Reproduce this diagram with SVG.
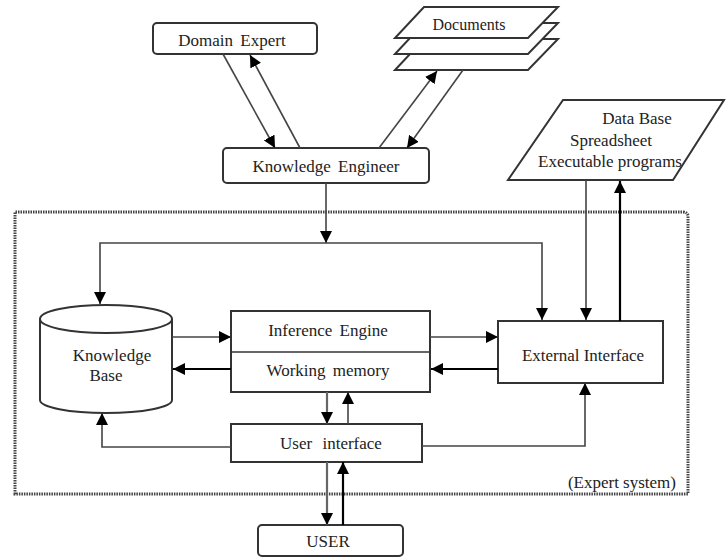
<svg xmlns="http://www.w3.org/2000/svg" width="727" height="558" viewBox="0 0 727 558">
<style>
text{font-family:'Liberation Serif','DejaVu Serif',serif;font-size:17px;fill:#222;text-anchor:middle;dominant-baseline:central;word-spacing:3px}
.box{fill:#fff;stroke:#333;stroke-width:2}
.ln{fill:none;stroke:#444;stroke-width:1.6}
.lnk{fill:none;stroke:#000;stroke-width:2.2}
.lng{fill:none;stroke:#666;stroke-width:2.2}
</style>
<defs>
<marker id="ah" markerUnits="userSpaceOnUse" markerWidth="14" markerHeight="12" refX="12" refY="6" orient="auto">
<path d="M0,0 L12,6 L0,12 Z" fill="#000"/>
</marker>
</defs>

<!-- dotted expert system boundary -->
<path d="M15,494 V212 H683 Q688,212 688,217 V494 Z" fill="none" stroke="#444" stroke-width="3" stroke-dasharray="1.5 1"/>
<text x="676" y="482" font-family="Liberation Serif, serif" style="text-anchor:end;word-spacing:0">(Expert system)</text>

<g id="domain-expert" font-family="Liberation Serif, serif">
<rect class="box" x="153" y="23" width="164" height="31" rx="4"/>
<text x="232" y="40">Domain Expert</text>
</g>

<g id="documents" font-family="Liberation Serif, serif">
<polygon class="box" points="424,39 558,39 528,70 395,70"/>
<polygon class="box" points="424,23 558,23 528,54 395,54"/>
<polygon class="box" points="424,7 558,7 528,38 395,38"/>
<text x="469" y="24" style="font-size:16px">Documents</text>
</g>

<g id="knowledge-engineer">
<rect class="box" x="223" y="148" width="206" height="35" rx="4"/>
<text x="326" y="166">Knowledge Engineer</text>
</g>

<g id="data-base">
<polygon class="box" points="563,100 724,100 673,180 508,180"/>
<text x="637" y="118" style="word-spacing:0">Data Base</text>
<text x="611" y="140">Spreadsheet</text>
<text x="610" y="161" style="word-spacing:0">Executable programs</text>
</g>

<g id="knowledge-base">
<path class="box" d="M40,319 V400 A66,13 0 0 0 172,400 V319"/>
<ellipse class="box" cx="106" cy="319" rx="66" ry="14"/>
<text x="112" y="355">Knowledge</text>
<text x="106" y="375">Base</text>
</g>

<g id="inference-engine">
<rect class="box" x="231" y="311" width="199" height="81"/>
<line x1="231" y1="352" x2="430" y2="352" stroke="#333" stroke-width="1.5"/>
<text x="328" y="330">Inference Engine</text>
<text x="328" y="370">Working memory</text>
</g>

<g id="external-interface">
<rect class="box" x="498" y="321" width="165" height="62"/>
<text x="583" y="355" style="word-spacing:0">External Interface</text>
</g>

<g id="user-interface">
<rect class="box" x="231" y="424" width="191" height="38"/>
<text x="331" y="443" style="word-spacing:6px">User interface</text>
</g>

<g id="user">
<rect class="box" x="258" y="525" width="145" height="31" rx="4"/>
<text x="328" y="541">USER</text>
</g>

<g id="connectors">
<line class="ln" x1="223" y1="54" x2="275" y2="148" marker-end="url(#ah)"/>
<line class="ln" x1="300" y1="148" x2="250" y2="55" marker-end="url(#ah)"/>
<line class="ln" x1="379" y1="148" x2="437" y2="71" marker-end="url(#ah)"/>
<line class="ln" x1="463" y1="70" x2="407" y2="148" marker-end="url(#ah)"/>
<line class="ln" x1="326" y1="183" x2="326" y2="243" marker-end="url(#ah)"/>
<polyline class="ln" points="326,243 100,243 100,304" marker-end="url(#ah)"/>
<polyline class="ln" points="326,243 542,243 542,320" marker-end="url(#ah)"/>
<line class="ln" x1="586" y1="180" x2="586" y2="320" marker-end="url(#ah)"/>
<line class="lnk" x1="620" y1="321" x2="620" y2="181" marker-end="url(#ah)"/>
<line class="ln" x1="172" y1="337" x2="231" y2="337" marker-end="url(#ah)"/>
<line class="lnk" x1="231" y1="369" x2="173" y2="369" marker-end="url(#ah)"/>
<line class="ln" x1="430" y1="337" x2="498" y2="337" marker-end="url(#ah)"/>
<line class="lnk" x1="498" y1="369" x2="431" y2="369" marker-end="url(#ah)"/>
<line class="lng" x1="327" y1="392" x2="327" y2="424" marker-end="url(#ah)"/>
<line class="ln" x1="348" y1="424" x2="348" y2="392" marker-end="url(#ah)"/>
<polyline class="ln" points="231,447 102,447 102,413" marker-end="url(#ah)"/>
<polyline class="ln" points="422,446 585,446 585,383" marker-end="url(#ah)"/>
<line class="lng" x1="327" y1="462" x2="327" y2="525" marker-end="url(#ah)"/>
<line class="lnk" x1="343" y1="525" x2="343" y2="462" marker-end="url(#ah)"/>
</g>
</svg>
